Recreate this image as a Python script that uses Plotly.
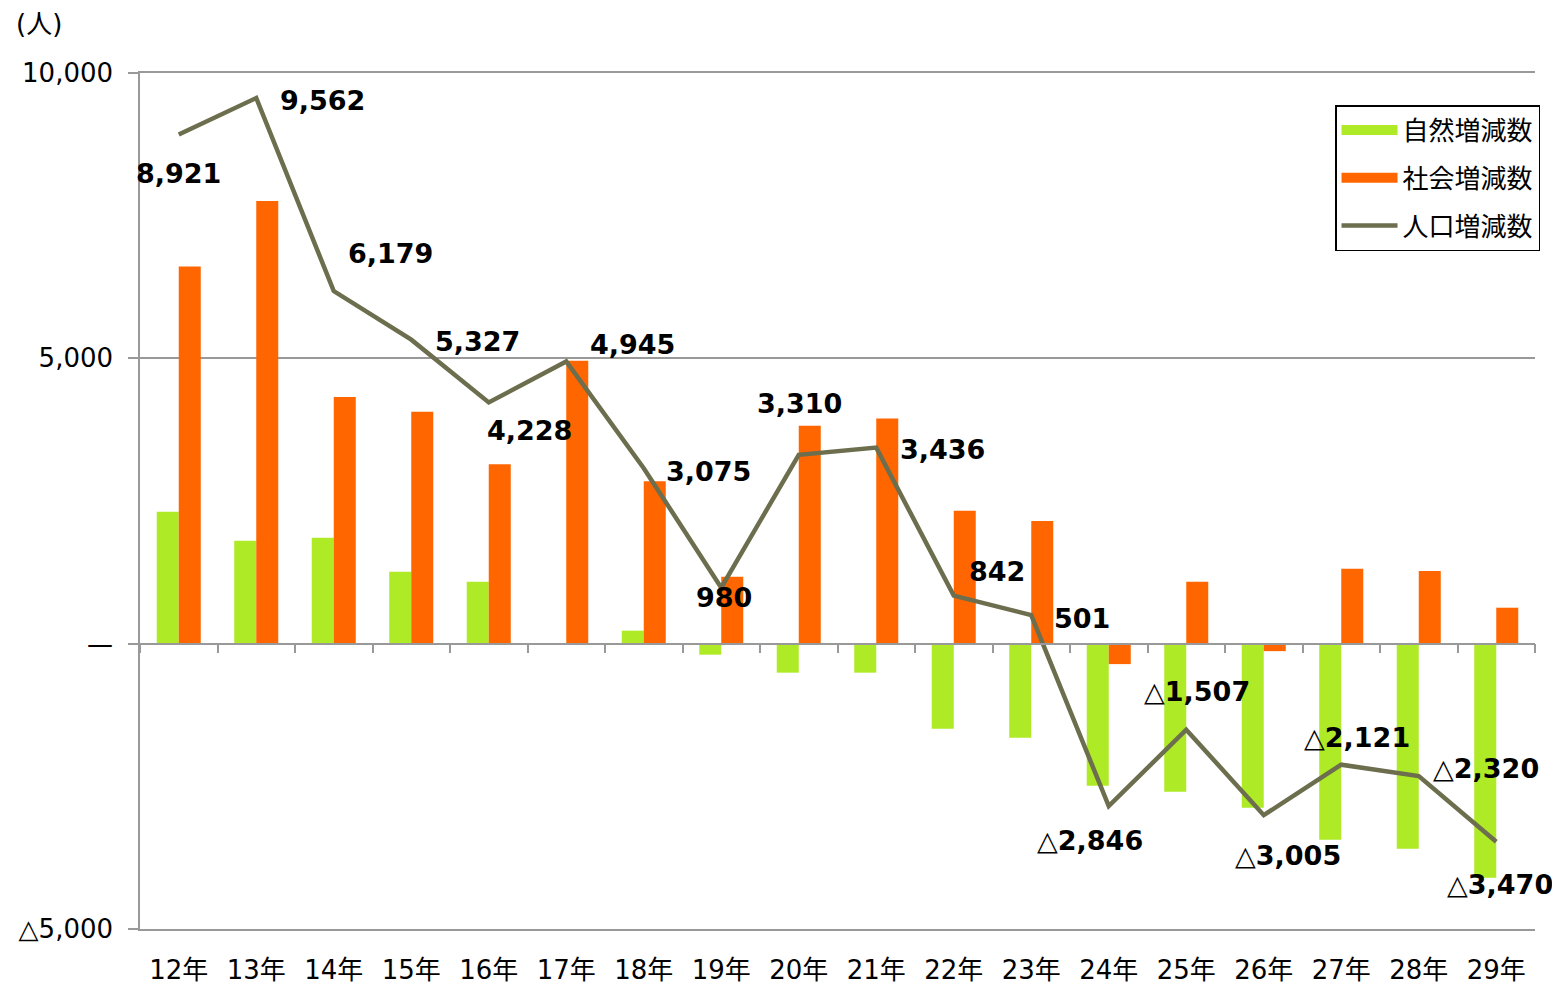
import plotly.graph_objects as go

categories = ["12年", "13年", "14年", "15年", "16年", "17年", "18年", "19年", "20年",
              "21年", "22年", "23年", "24年", "25年", "26年", "27年", "28年", "29年"]
natural = [2313, 1805, 1857, 1262, 1086, -14, 228, -193, -508, -508, -1489, -1647,
           -2488, -2593, -2874, -3434, -3592, -4100]
social = [6608, 7757, 4322, 4065, 3142, 4959, 2847, 1173, 3818, 3944, 2331, 2148,
          -358, 1086, -131, 1313, 1272, 630]
population = [8921, 9562, 6179, 5327, 4228, 4945, 3075, 980, 3310, 3436, 842, 501,
              -2846, -1507, -3005, -2121, -2320, -3470]
y_tickvals = [-5000, 0, 5000, 10000]
y_ticktext = ["△5,000", "—", "5,000", "10,000"]

# label offsets (px) relative to each line point
label_dx = [0, 66, 57, 66, 41, 66, 65, 3, 1, 66, 43, 51, -19, 11, 24, 16, 67, 4]
label_dy = [-39, -2, 38, -2, -28, 17, -3, -10, 51, -2, 24, -3, -34, 38, -40, 27, 8, -43]

GREEN = "#AEEA26"
ORANGE = "#FF6600"
OLIVE = "#6C6E4E"
GRID = "#999999"
FONT = "DejaVu Sans, Noto Sans CJK JP"
CJK = "Noto Sans CJK JP, DejaVu Sans"

fig = go.Figure()
fig.add_trace(go.Bar(x=categories, y=natural, marker=dict(color=GREEN, line_width=0),
                     name="自然増減数", showlegend=False))
fig.add_trace(go.Bar(x=categories, y=social, marker=dict(color=ORANGE, line_width=0),
                     name="社会増減数", showlegend=False))
fig.add_trace(go.Scatter(x=[None], y=[None], mode="lines", line=dict(color=GREEN, width=16),
                         name="自然増減数", legendgroup="a"))
fig.add_trace(go.Scatter(x=[None], y=[None], mode="lines", line=dict(color=ORANGE, width=16),
                         name="社会増減数", legendgroup="b"))
fig.add_trace(go.Scatter(x=categories, y=population, mode="lines", xaxis="x2",
                         line=dict(color=OLIVE, width=4.5), name="人口増減数", legendgroup="c"))


def fmt(v):
    s = f"{abs(v):,}"
    return ("△" if v < 0 else "") + "<b>" + s + "</b>"


annotations = []
for c, v, dx, dy in zip(categories, population, label_dx, label_dy):
    annotations.append(dict(x=c, y=v, xref="x", yref="y", text=fmt(v), showarrow=False,
                            xshift=dx, yshift=dy, font=dict(family=FONT, size=27, color="#000000")))
annotations.append(dict(x=-0.09, y=1.057, xref="paper", yref="paper", xanchor="left",
                        yanchor="middle", text="(人)", showarrow=False,
                        font=dict(family=FONT, size=26, color="#000000")))

fig.update_layout(
    width=1560, height=985,
    margin=dict(l=132, r=33, t=65, b=64, autoexpand=False),
    paper_bgcolor="white", plot_bgcolor="white",
    barmode="group", bargap=0.432, bargroupgap=0,
    font=dict(family=FONT, size=26, color="#000000"),
    xaxis=dict(type="category", categoryorder="array", categoryarray=categories,
               range=[-0.5, 17.5], showline=True, mirror=True, linecolor=GRID, linewidth=1.5,
               ticks="", showgrid=False, automargin=False,
               tickfont=dict(family=FONT, size=26, color="#000000"),
               ticklabelstandoff=17),
    xaxis2=dict(type="category", categoryorder="array", categoryarray=categories,
                range=[-0.5, 17.5], overlaying="x", anchor="free", position=1/3,
                showline=True, linecolor=GRID, linewidth=1.5, ticks="outside",
                tickson="boundaries", ticklen=9, tickwidth=1.5, tickcolor=GRID,
                showticklabels=False, showgrid=False, zeroline=False, automargin=False),
    yaxis=dict(range=[-5000, 10000], tickvals=y_tickvals, ticktext=y_ticktext,
               showgrid=True, gridcolor=GRID, gridwidth=1.5, zeroline=False,
               showline=True, linecolor=GRID, linewidth=1.5, ticks="outside",
               ticklen=10, tickwidth=1.5, tickcolor=GRID, automargin=False,
               ticklabelstandoff=10,
               tickfont=dict(family=FONT, size=26, color="#000000")),
    legend=dict(x=1.0036, xanchor="right", y=0.9626, yanchor="top",
                bordercolor="#000000", borderwidth=1.5, bgcolor="white",
                font=dict(family=CJK, size=26, color="#000000"),
                itemwidth=56, tracegroupgap=11, traceorder="grouped"),
    annotations=annotations,
)

fig.write_html("out.html")
